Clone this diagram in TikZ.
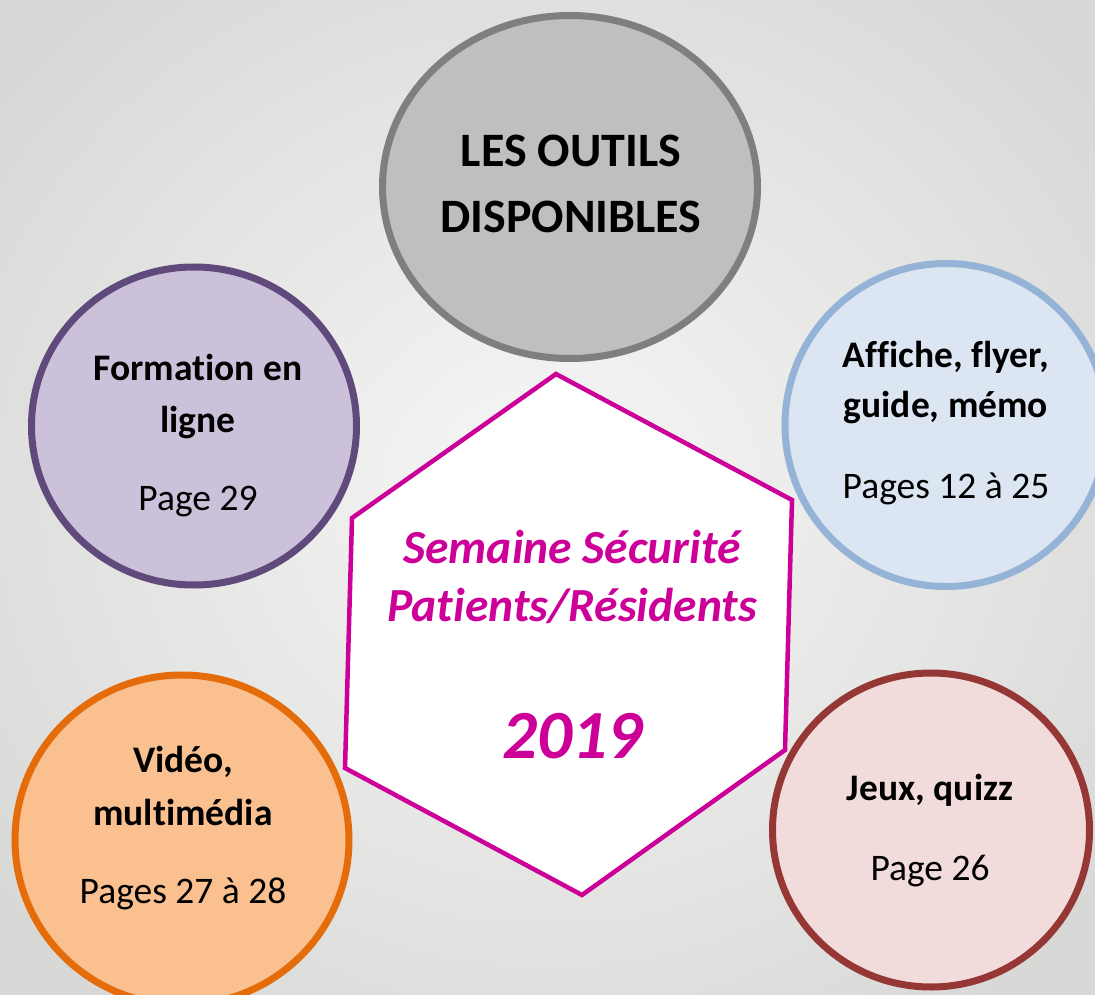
\documentclass[tikz,border=0pt]{standalone}
\usepackage{fontspec}
\setmainfont{Carlito}[Ligatures=NoCommon]
\usetikzlibrary{shapes.geometric}
\definecolor{bgout}{HTML}{D8D8D6}
\definecolor{bgin}{HTML}{F7F7F7}
\definecolor{grayfill}{HTML}{BFBFBF}
\definecolor{grayline}{HTML}{7F7F7F}
\definecolor{purfill}{HTML}{CCC1DA}
\definecolor{purline}{HTML}{604A7B}
\definecolor{bluefill}{HTML}{DCE6F2}
\definecolor{blueline}{HTML}{95B3D7}
\definecolor{orafill}{HTML}{FAC090}
\definecolor{oraline}{HTML}{E46C0A}
\definecolor{redfill}{HTML}{F2DCDB}
\definecolor{redline}{HTML}{953735}
\definecolor{magenta}{HTML}{CC0099}
\begin{document}
\begin{tikzpicture}[x=1pt,y=-1pt,
  bubble/.style={ellipse, line width=7pt, inner sep=0pt},
  big/.style={anchor=base, font=\fontsize{48}{52}\selectfont\bfseries},
  btxt/.style={anchor=base, font=\fontsize{37.5}{42}\selectfont\bfseries},
  ntxt/.style={anchor=base, font=\fontsize{37.5}{42}\selectfont},
  htxt/.style={anchor=base, text=magenta, font=\fontsize{47.5}{52}\selectfont\bfseries\itshape},
  ytxt/.style={anchor=base, text=magenta, font=\fontsize{69}{72}\selectfont\bfseries\itshape}]
\useasboundingbox (0,0) rectangle (1095,995);
\begin{scope}
\clip (0,0) rectangle (1095,995);
\shade[inner color=bgin, outer color=bgout] (-150,-150) rectangle (1245,1145);
% bubbles
\node[bubble, draw=grayline, fill=grayfill, minimum width=375pt, minimum height=343pt] (top) at (570,187) {};
\node[bubble, draw=purline, fill=purfill, minimum width=325pt, minimum height=318pt] (lef) at (194,426) {};
\node[bubble, draw=blueline, fill=bluefill, minimum width=322pt, minimum height=323pt] (rig) at (946,425) {};
\node[bubble, draw=oraline, fill=orafill, minimum width=334pt, minimum height=330pt] (bl) at (182,840) {};
\node[bubble, draw=redline, fill=redfill, minimum width=317pt, minimum height=314pt] (br) at (931,830) {};
% hexagon
\coordinate (h1) at (556,374);
\coordinate (h2) at (792,500);
\coordinate (h3) at (785,750);
\coordinate (h4) at (582,895);
\coordinate (h5) at (345,768);
\coordinate (h6) at (352,518);
\draw[magenta, fill=white, line width=4.5pt, line join=miter] (h1) -- (h2) -- (h3) -- (h4) -- (h5) -- (h6) -- cycle;
\end{scope}
% texts
\node[big] (t1) at (571,167) {LES OUTILS};
\node[big] (t2) at (571,233) {DISPONIBLES};
\node[btxt] (l1) at (198,380) {Formation en};
\node[btxt] (l2) at (198,432) {ligne};
\node[ntxt] (l3) at (198,510) {Page 29};
\node[btxt] (r1) at (946,367) {Affiche, flyer,};
\node[btxt] (r2) at (946,417) {guide, mémo};
\node[ntxt] (r3) at (946,498) {Pages 12 à 25};
\node[btxt] (o1) at (183,772) {Vidéo,};
\node[btxt] (o2) at (183,825) {multimédia};
\node[ntxt] (o3) at (183,903) {Pages 27 à 28};
\node[btxt] (q1) at (930,800) {Jeux, quizz};
\node[ntxt] (q2) at (930,880) {Page 26};
\node[htxt] (s1) at (572,563) {Semaine Sécurité};
\node[htxt] (s2) at (572,621) {Patients/Résidents};
\node[ytxt] (s3) at (572,758) {2019};
\end{tikzpicture}
\end{document}
